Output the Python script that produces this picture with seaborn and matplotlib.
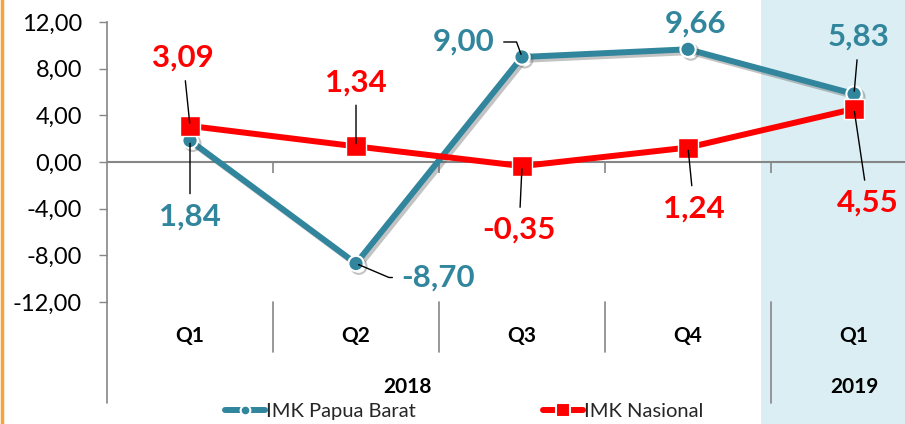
import matplotlib
matplotlib.use('Agg')
import matplotlib.pyplot as plt
import matplotlib.patheffects as pe
from matplotlib.patches import Rectangle
from matplotlib.lines import Line2D
from matplotlib.ticker import FuncFormatter
import seaborn as sns
import pandas as pd

# ---- data ----
quarters = ['Q1', 'Q2', 'Q3', 'Q4', 'Q1']
years = ['2018', '2019']
papua_barat = [1.84, -8.70, 9.00, 9.66, 5.83]
nasional = [3.09, 1.34, -0.35, 1.24, 4.55]
yticks = [-12, -8, -4, 0, 4, 8, 12]
series_names = ['IMK Papua Barat', 'IMK Nasional']

# ---- style ----
TEAL = '#31859C'
RED = '#FF0000'
GRAY = '#868686'
SHADE = '#DAEEF3'
ORANGE = '#F7A23A'

sns.set_theme(style='white')
plt.rcParams['font.family'] = ['Lato', 'DejaVu Sans']

W, H = 905, 424
fig = plt.figure(figsize=(W / 100, H / 100), dpi=100)
fig.patch.set_facecolor('white')
fig.add_artist(Rectangle((761 / W, 0), 1 - 761 / W, 1, transform=fig.transFigure,
                         facecolor=SHADE, edgecolor='none', zorder=-5))
fig.add_artist(Line2D([1.5 / W, 1.5 / W], [0, 1], transform=fig.transFigure,
                      color=ORANGE, lw=2.5, zorder=-4))

ax = fig.add_axes([107 / W, 1 - 302 / H, (W - 107) / W, 280 / H])
ax.set_facecolor('none')

df = pd.DataFrame({'pos': list(range(len(quarters))), 'pb': papua_barat, 'nas': nasional})

shadow = [pe.SimpleLineShadow(offset=(2, -2), shadow_color='#555555', alpha=0.35), pe.Normal()]

sns.lineplot(data=df, x='pos', y='pb', ax=ax, color=TEAL, lw=4.3, marker='o',
             markersize=11, markeredgecolor='white', markeredgewidth=1.5,
             sort=False, legend=False, zorder=3)
ax.lines[-1].set_path_effects(shadow)
sns.lineplot(data=df, x='pos', y='nas', ax=ax, color=RED, lw=4.3, marker='s',
             markersize=14, markeredgecolor='white', markeredgewidth=1.0,
             sort=False, legend=False, zorder=4)

# zero line and boundary ticks
n = len(quarters)
boundaries = [i + 0.5 for i in range(n - 1)]
ax.axhline(0, color=GRAY, lw=1.5, zorder=1)
ax.vlines(boundaries, -0.9, 0, color=GRAY, lw=1.2, zorder=1)

# axes
ax.set_xlim(-0.5, 4.307)
ax.set_ylim(-12, 12)
ax.set_yticks(yticks)
ax.yaxis.set_major_formatter(FuncFormatter(lambda v, p: f'{v:.2f}'.replace('.', ',')))
ax.tick_params(axis='y', length=6, width=1, color=GRAY, labelsize=17, pad=12,
               labelcolor='black', left=True)
for s in ['top', 'right', 'bottom']:
    ax.spines[s].set_visible(False)
ax.spines['left'].set_color(GRAY)
ax.spines['left'].set_linewidth(1.2)
ax.set_xlabel('')
ax.set_ylabel('')

ax.set_xticks(range(n))
ax.set_xticklabels(quarters, fontweight='bold', fontsize=15)
ax.tick_params(axis='x', length=0, pad=17, labelcolor='black')

# category separators below the axis
xt = ax.get_xaxis_transform()
for b in boundaries[:-1]:
    ax.plot([b, b], [0, -50 / 280], transform=xt, color=GRAY, lw=1.2, clip_on=False)
ax.plot([boundaries[-1]] * 2, [0, -101 / 280], transform=xt, color=GRAY, lw=1.2, clip_on=False)
ax.plot([-0.5, -0.5], [0, -101 / 280], transform=xt, color=GRAY, lw=1.2, clip_on=False)

year_pos = [1.31, 4.0]
for yp, yl in zip(year_pos, years):
    ax.text(yp, -85 / 280, yl, transform=xt, ha='center', va='center',
            fontsize=15, fontweight='bold', color='black')

# data labels (offsets in pixels)
pb_offsets = [(0, -76), (82, -14), (-58, 15), (7, 26), (5, 57)]
pb_leader = [None, 'angle,angleA=180,angleB=-23,rad=0', 'angle,angleA=0,angleB=110,rad=0',
             False, None]
nas_offsets = [(-7, 68), (0, 64), (-3, -64), (6, -61), (14, -94)]

def fmt(v):
    return f'{v:.2f}'.replace('.', ',')

for i, v in enumerate(papua_barat):
    if pb_leader[i] is False:
        ap = None
    else:
        ap = dict(arrowstyle='-', color='black', lw=1, shrinkA=4, shrinkB=2)
        if pb_leader[i]:
            ap['connectionstyle'] = pb_leader[i]
    ax.annotate(fmt(v), xy=(i, v), xytext=pb_offsets[i], textcoords='offset pixels',
                ha='center', va='center', fontsize=22.5, fontweight='bold', color=TEAL,
                arrowprops=ap, zorder=6)
for i, v in enumerate(nasional):
    ax.annotate(fmt(v), xy=(i, v), xytext=nas_offsets[i], textcoords='offset pixels',
                ha='center', va='center', fontsize=22.5, fontweight='bold', color=RED,
                arrowprops=dict(arrowstyle='-', color='black', lw=1, shrinkA=4, shrinkB=2), zorder=6)

# legend
handles = [Line2D([], [], color=TEAL, lw=4.3, marker='o', markersize=7, solid_capstyle='round',
                  markeredgecolor='white', markeredgewidth=1.5),
           Line2D([], [], color=RED, lw=4.3, marker='s', markersize=10, solid_capstyle='round',
                  markeredgecolor='white', markeredgewidth=1.5)]
fig.legend(handles, series_names, loc='center', bbox_to_anchor=(464 / W, 1 - 411 / H),
           ncol=2, frameon=False, fontsize=14.5, handlelength=2.0, handletextpad=0.05,
           columnspacing=6.3, borderpad=0)

fig.savefig('out.png', dpi=100)
